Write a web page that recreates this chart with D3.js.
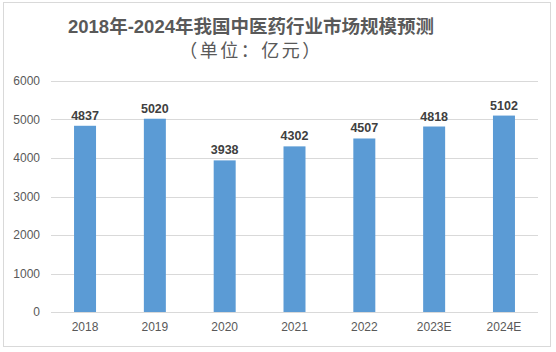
<!DOCTYPE html>
<html>
<head>
<meta charset="utf-8">
<script src="https://cdn.jsdelivr.net/npm/d3@7"></script>
<style>
  body { margin: 0; background: #fff; }
  text { font-family: "Liberation Sans", "Noto Sans CJK SC", sans-serif; }
</style>
</head>
<body>
<div id="container"></div>
<script>
const years = ["2018", "2019", "2020", "2021", "2022", "2023E", "2024E"];
const values = [4837, 5020, 3938, 4302, 4507, 4818, 5102];
const yTicks = [0, 1000, 2000, 3000, 4000, 5000, 6000];

const width = 556, height = 352;

const svg = d3.select("#container")
  .append("svg")
  .attr("width", width)
  .attr("height", height);

// chart frame
svg.append("rect")
  .attr("x", 3.5).attr("y", 2.5)
  .attr("width", 547).attr("height", 344)
  .attr("fill", "#fff")
  .attr("stroke", "#d9d9d9");

const x = d3.scaleBand()
  .domain(years)
  .range([51, 538])
  .paddingInner(0.685)
  .paddingOuter(0.33);

const y = d3.scaleLinear()
  .domain([0, 6000])
  .range([312, 81]);

// gridlines
svg.append("g")
  .selectAll("line")
  .data(yTicks)
  .join("line")
  .attr("x1", 51).attr("x2", 538)
  .attr("y1", d => Math.round(y(d)) + 0.5)
  .attr("y2", d => Math.round(y(d)) + 0.5)
  .attr("stroke", "#d9d9d9");

// y axis labels
const yAxis = d3.axisLeft(y).tickValues(yTicks).tickFormat(d3.format("d")).tickSize(0).tickPadding(0);
svg.append("g")
  .attr("transform", "translate(40,0)")
  .call(yAxis)
  .call(g => g.select(".domain").remove())
  .call(g => g.selectAll("text")
    .attr("fill", "#595959")
    .style("font-size", "12px"));

// x axis labels
const xAxis = d3.axisBottom(x).tickSize(0).tickPadding(0);
svg.append("g")
  .attr("transform", "translate(0,322)")
  .call(xAxis)
  .call(g => g.select(".domain").remove())
  .call(g => g.selectAll("text")
    .attr("fill", "#595959")
    .style("font-size", "12px"));

// bars
svg.append("g")
  .selectAll("rect")
  .data(values)
  .join("rect")
  .attr("x", (d, i) => x(years[i]))
  .attr("width", x.bandwidth())
  .attr("y", d => y(d))
  .attr("height", d => y(0) - y(d))
  .attr("fill", "#5b9bd5");

// value labels
svg.append("g")
  .selectAll("text")
  .data(values)
  .join("text")
  .attr("x", (d, i) => x(years[i]) + x.bandwidth() / 2)
  .attr("y", d => y(d) - 6)
  .attr("text-anchor", "middle")
  .attr("fill", "#404040")
  .style("font-size", "12.5px")
  .style("font-weight", "bold")
  .text(d => d);

// title
svg.append("text")
  .attr("x", 251).attr("y", 33)
  .attr("text-anchor", "middle")
  .attr("fill", "#595959")
  .style("font-size", "18.5px")
  .style("font-weight", "bold")
  .text("2018年-2024年我国中医药行业市场规模预测");

svg.append("text")
  .attr("x", 251).attr("y", 57)
  .attr("text-anchor", "middle")
  .attr("fill", "#595959")
  .style("font-family", "'Noto Sans CJK SC', sans-serif")
  .style("font-size", "18px")
  .style("letter-spacing", "2.5px")
  .text("（单位：亿元）");
</script>
</body>
</html>
